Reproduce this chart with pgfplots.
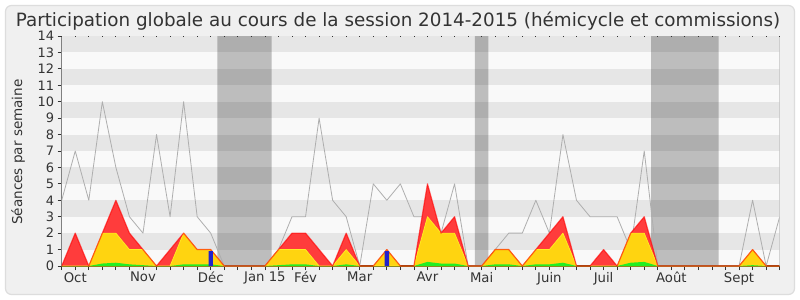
\documentclass[border=0pt]{standalone}
\usepackage{fontspec}
\setmainfont{DejaVu Sans}
\usepackage{pgfplots}
\pgfplotsset{compat=1.18}
\usepackage{pgfplotstable}
\definecolor{redfill}{HTML}{FF3C3C}
\definecolor{redline}{HTML}{FF0000}
\definecolor{yelfill}{HTML}{FFD410}
\definecolor{yelline}{HTML}{FFEE22}
\definecolor{grnfill}{HTML}{22EE22}
\definecolor{bluefill}{HTML}{2222CC}
\definecolor{grayline}{HTML}{AEAEAE}
\definecolor{stripedark}{HTML}{E6E6E6}
\definecolor{stripelight}{HTML}{F9F9F9}
\definecolor{bgc}{HTML}{F0F0F0}
\definecolor{framec}{HTML}{DDDDDD}
\definecolor{txt}{HTML}{333333}
\definecolor{baseaxis}{HTML}{3A2418}

\pgfplotstableread{
i gray red yellow green
0 4 0 0 0
1 7 2 0 0
2 4 0 0 0
3 10 2 2 0.15
4 6 4 2 0.2
5 3 2 1 0.1
6 2 1 1 0.05
7 8 0 0 0
8 3 1 0 0
9 10 2 2 0.1
10 3 1 1 0.1
11 2 1 1 0.1
12 0 0 0 0
13 0 0 0 0
14 0 0 0 0
15 0 0 0 0
16 1 1 1 0.05
17 3 2 1 0.1
18 3 2 1 0.1
19 9 1 0 0
20 4 0 0 0
21 3 2 1 0.1
22 0 0 0 0
23 5 0 0 0
24 4 1 1 0
25 5 0 0 0
26 3 0 0 0
27 3 5 3 0.25
28 2 2 2 0.15
29 5 3 2 0.15
30 0 0 0 0
31 0 0 0 0
32 1 1 1 0.1
33 2 1 1 0.1
34 2 0 0 0
35 4 1 1 0.1
36 2 2 1 0.1
37 8 3 2 0.2
38 4 0 0 0
39 3 0 0 0
40 3 1 0 0
41 3 0 0 0
42 1 2 2 0.2
43 7 3 2 0.25
44 0 0 0 0
45 0 0 0 0
46 0 0 0 0
47 0 0 0 0
48 0 0 0 0
49 0 0 0 0
50 0 0 0 0
51 4 1 1 0.05
52 0 0 0 0
53 3 0 0 0
}\data

\pgfplotstableread{
i q
11 0.9
24 0.9
}\quest

\begin{document}
\begin{tikzpicture}
\fill[white] (0bp,0bp) rectangle (800bp,-300bp);
\filldraw[fill=bgc, draw=framec, line width=1.2bp, rounded corners=6bp] (5.5bp,-5.5bp) rectangle (794.5bp,-294.5bp);
\node[anchor=base, text=txt, font=\fontsize{18.4}{20}\selectfont, inner sep=0pt] at (398bp,-26bp) {Participation globale au cours de la session 2014-2015 (hémicycle et commissions)};
\node[rotate=90, anchor=center, text=txt, font=\fontsize{13.6}{15}\selectfont, inner sep=0pt] at (18bp,-152bp) {Séances par semaine};
\begin{axis}[
  at={(61.7bp,-266bp)}, anchor=south west,
  scale only axis, width=718bp, height=230bp,
  xmin=0, xmax=53, ymin=0, ymax=14,
  axis x line*=bottom, axis y line*=left,
  x axis line style={draw=baseaxis, line width=1.2bp, -},
  y axis line style={draw=gray, line width=0.8bp, -},
  axis background/.style={fill=stripelight},
  tick align=outside,
  major tick length=4bp,
  xtick={0,...,53}, xticklabels={},
  extra x ticks={1,6,11,15,18,22,27,31,36,40,45,50},
  extra x tick labels={Oct,Nov,Déc,Jan 15,Fév,Mar,Avr,Mai,Juin,Juil,Août,Sept},
  extra x tick style={major tick length=4bp},
  xtick style={draw=txt, line width=0.8bp},
  ytick={0,...,14},
  ytick style={draw=txt, line width=0.8bp},
  /pgf/number format/assume math mode=true,
  yticklabel style={font=\fontsize{13}{13}\selectfont, text=txt, inner sep=1bp, xshift=-2.5bp},
  xticklabel style={font=\fontsize{13.3}{13.3}\selectfont, text=txt, inner sep=1bp, yshift=-1bp},
  line join=round,
]
\fill[stripedark] (axis cs:0,1) rectangle (axis cs:53,2);
\fill[stripedark] (axis cs:0,3) rectangle (axis cs:53,4);
\fill[stripedark] (axis cs:0,5) rectangle (axis cs:53,6);
\fill[stripedark] (axis cs:0,7) rectangle (axis cs:53,8);
\fill[stripedark] (axis cs:0,9) rectangle (axis cs:53,10);
\fill[stripedark] (axis cs:0,11) rectangle (axis cs:53,12);
\fill[stripedark] (axis cs:0,13) rectangle (axis cs:53,14);
\addplot[fill=black, fill opacity=0.24, draw=none] coordinates {(11.5,0) (11.5,14) (15.5,14) (15.5,0)} \closedcycle;
\addplot[fill=black, fill opacity=0.24, draw=none] coordinates {(30.5,0) (30.5,14) (31.5,14) (31.5,0)} \closedcycle;
\addplot[fill=black, fill opacity=0.24, draw=none] coordinates {(43.5,0) (43.5,14) (48.5,14) (48.5,0)} \closedcycle;
\addplot[grayline, line width=0.8bp, mark=none] table[x=i, y=gray] {\data};
\addplot[fill=redfill, draw=none] table[x=i, y=red] {\data} \closedcycle;
\addplot[fill=yelfill, draw=yelline, line width=0.7bp] table[x=i, y=yellow] {\data} \closedcycle;
\addplot[fill=grnfill, draw=none] table[x=i, y=green] {\data} \closedcycle;
\addplot[draw=redline, draw opacity=0.6, line width=1.2bp, mark=none] table[x=i, y=red] {\data};
\addplot[ybar, bar width=0.32, fill=bluefill, draw=none] table[x=i, y=q] {\quest};
\draw[gray!50, line width=0.6bp] (rel axis cs:1,0) -- (rel axis cs:1,1);
\end{axis}
\begin{axis}[
  at={(61.7bp,-266bp)}, anchor=south west,
  scale only axis, width=718bp, height=230bp,
  xmin=0, xmax=53, ymin=0, ymax=14,
  axis x line*=top, axis y line=none,
  x axis line style={draw=none},
  xtick={0,...,53}, xticklabels={},
  tick align=inside, major tick length=1.2bp,
  xtick style={draw=txt, line width=0.8bp},
]
\addplot[draw=none] coordinates {(0,0)};
\end{axis}
\path[use as bounding box] (0bp,0bp) rectangle (800bp,-300bp);
\end{tikzpicture}
\end{document}
